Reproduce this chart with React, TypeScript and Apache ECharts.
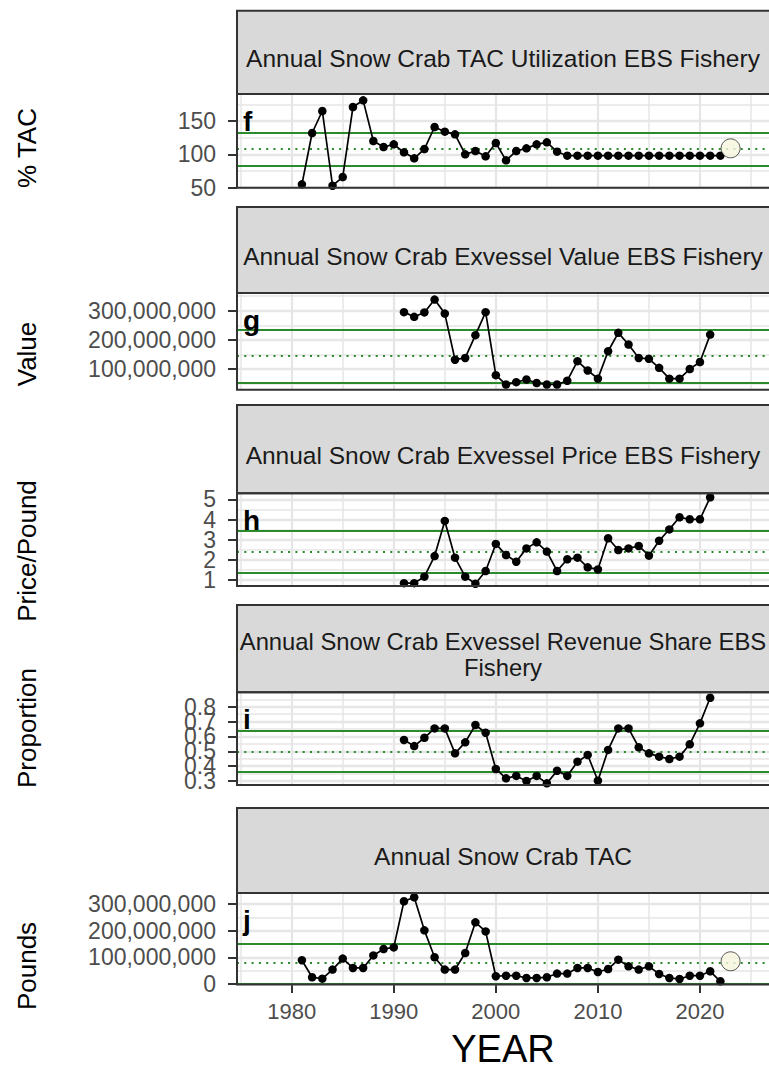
import { useEffect, useRef } from "react";
import * as echarts from "echarts";

const FONT = "'Liberation Sans', Arial, Helvetica, sans-serif";

// ---------- data ----------
const tacYears = [1981, 1982, 1983, 1984, 1985, 1986, 1987, 1988, 1989, 1990, 1991, 1992, 1993, 1994, 1995, 1996, 1997, 1998, 1999, 2000, 2001, 2002, 2003, 2004, 2005, 2006, 2007, 2008, 2009, 2010, 2011, 2012, 2013, 2014, 2015, 2016, 2017, 2018, 2019, 2020, 2021, 2022];
const econYears = [1991, 1992, 1993, 1994, 1995, 1996, 1997, 1998, 1999, 2000, 2001, 2002, 2003, 2004, 2005, 2006, 2007, 2008, 2009, 2010, 2011, 2012, 2013, 2014, 2015, 2016, 2017, 2018, 2019, 2020, 2021];

const tacUtilization = [55, 132, 165, 53, 66, 171, 181, 120, 111, 115, 103, 94, 108, 141, 134, 130, 100, 105, 97, 117, 91, 105, 109, 115, 118, 104, 98, 98, 98, 98, 98, 98, 98, 98, 98, 98, 98, 98, 98, 98, 98, 98];
const exvesselValue = [295e6, 279e6, 294e6, 338e6, 290e6, 132e6, 138e6, 216e6, 295e6, 79e6, 47e6, 55e6, 64e6, 52e6, 47e6, 47e6, 60e6, 127e6, 95e6, 67e6, 161e6, 224e6, 184e6, 138e6, 135e6, 104e6, 67e6, 67e6, 100e6, 124e6, 218e6];
const exvesselPrice = [0.85, 0.85, 1.17, 2.19, 3.93, 2.11, 1.17, 0.82, 1.45, 2.79, 2.24, 1.91, 2.57, 2.87, 2.41, 1.45, 2.03, 2.11, 1.63, 1.53, 3.07, 2.49, 2.57, 2.69, 2.21, 2.95, 3.51, 4.11, 4.01, 4.01, 5.1];
const revenueShare = [0.576, 0.535, 0.591, 0.654, 0.654, 0.486, 0.56, 0.677, 0.625, 0.381, 0.318, 0.334, 0.3, 0.334, 0.284, 0.369, 0.334, 0.43, 0.475, 0.302, 0.509, 0.654, 0.654, 0.527, 0.486, 0.464, 0.448, 0.464, 0.547, 0.688, 0.86];
const tacPounds = [89e6, 25e6, 20e6, 54e6, 95e6, 60e6, 60e6, 107e6, 131e6, 137e6, 310e6, 325e6, 201e6, 100e6, 54e6, 54e6, 116e6, 231e6, 197e6, 29e6, 31e6, 31e6, 22.5e6, 22.5e6, 25e6, 39e6, 39e6, 60e6, 60e6, 45e6, 56e6, 91e6, 66e6, 54e6, 66e6, 37.5e6, 22.5e6, 18.7e6, 31e6, 31e6, 47.5e6, 10e6];

// current-year markers (open circles)
const utilizationCurrent = [2023, 109];
const poundsCurrent = [2023, 85e6];

// reference lines: [lower, mean, upper]
const utilizationRef = [83, 108, 132];
const valueRef = [53e6, 144e6, 236e6];
const priceRef = [1.37, 2.39, 3.42];
const shareRef = [0.358, 0.497, 0.638];
const poundsRef = [1e6, 81e6, 151e6];

// ticks / grid values
const xMajor = [1980, 1990, 2000, 2010, 2020];
const xMinor = [1975, 1985, 1995, 2005, 2015, 2025];
const utilMajor = [50, 100, 150];
const utilMinor = [75, 125, 175];
const valueMajor = [100e6, 200e6, 300e6];
const valueMinor = [50e6, 150e6, 250e6, 350e6];
const priceMajor = [1, 2, 3, 4, 5];
const priceMinor = [1.5, 2.5, 3.5, 4.5];
const shareMajor = [0.3, 0.4, 0.5, 0.6, 0.7, 0.8];
const shareMinor = [0.35, 0.45, 0.55, 0.65, 0.75, 0.85];
const poundsMajor = [0, 100e6, 200e6, 300e6];
const poundsMinor = [50e6, 150e6, 250e6];

const titles = [
  "Annual Snow Crab TAC Utilization EBS Fishery",
  "Annual Snow Crab Exvessel Value EBS Fishery",
  "Annual Snow Crab Exvessel Price EBS Fishery",
  "Annual Snow Crab Exvessel Revenue Share EBS\nFishery",
  "Annual Snow Crab TAC",
];
const yTitles = ["% TAC", "Value", "Price/Pound", "Proportion", "Pounds"];
const letters = ["f", "g", "h", "i", "j"];

const commas = (v: number) => Math.round(v).toLocaleString("en-US");

const panels = [
  { years: tacYears, values: tacUtilization, ref: utilizationRef, major: utilMajor, minor: utilMinor, extra: utilizationCurrent, fmt: (v: number) => String(v) },
  { years: econYears, values: exvesselValue, ref: valueRef, major: valueMajor, minor: valueMinor, extra: null, fmt: commas },
  { years: econYears, values: exvesselPrice, ref: priceRef, major: priceMajor, minor: priceMinor, extra: null, fmt: (v: number) => String(Math.round(v)) },
  { years: econYears, values: revenueShare, ref: shareRef, major: shareMajor, minor: shareMinor, extra: null, fmt: (v: number) => v.toFixed(1) },
  { years: tacYears, values: tacPounds, ref: poundsRef, major: poundsMajor, minor: poundsMinor, extra: poundsCurrent, fmt: commas },
];

// ---------- layout ----------
const X_MIN = 1974.64;
const X_MAX = 2026.96;
const PANEL_LEFT = 237;
const PANEL_WIDTH = 534;
const layout = [
  { stripTop: 10.7, top: 94, height: 93.7, yMin: 50, yMax: 190.5, yTitleY: 148, titleSize: 24.5 },
  { stripTop: 207, top: 293, height: 96.7, yMin: 29.2e6, yMax: 360.6e6, yTitleY: 354, titleSize: 24.5 },
  { stripTop: 405, top: 493.3, height: 92.7, yMin: 0.708, yMax: 5.297, yTitleY: 551, titleSize: 24.5 },
  { stripTop: 605, top: 692.3, height: 92.7, yMin: 0.273, yMax: 0.897, yTitleY: 728, titleSize: 23.8 },
  { stripTop: 808, top: 893, height: 91.5, yMin: -2e6, yMax: 341e6, yTitleY: 966, titleSize: 24.5 },
];

const GREEN = "#2b8a2b";
const GRID = "#e6e6e6";
const DARK = "#333333";
const TICK_TEXT = "#4d4d4d";

export default function App() {
  const ref = useRef<HTMLDivElement>(null);

  useEffect(() => {
    if (!ref.current) return;
    const chart = echarts.init(ref.current, undefined, { renderer: "svg" });

    const grids: any[] = [];
    const xAxes: any[] = [];
    const yAxes: any[] = [];
    const series: any[] = [];
    const graphic: any[] = [];

    const yLabel = (fmt: (v: number) => string, values: number[]) => ({
      show: true,
      customValues: values,
      interval: 0,
      showMinLabel: true,
      showMaxLabel: true,
      hideOverlap: false,
      formatter: fmt,
      color: TICK_TEXT,
      fontSize: 23,
      lineHeight: 13,
      fontFamily: FONT,
      margin: 21,
    });

    panels.forEach((p, i) => {
      const L = layout[i];
      const isLast = i === panels.length - 1;
      grids.push({
        left: PANEL_LEFT,
        width: PANEL_WIDTH,
        top: L.top,
        height: L.height,
        show: true,
        backgroundColor: "#ffffff",
        borderWidth: 0,
        containLabel: false,
        outerBoundsMode: "none",
      });
      xAxes.push({
        gridIndex: i,
        type: "value",
        min: X_MIN,
        max: X_MAX,
        splitLine: { show: false },
        axisLine: { show: false },
        axisTick: isLast
          ? { show: true, customValues: xMajor, length: 9, lineStyle: { color: DARK, width: 2 } }
          : { show: false },
        axisLabel: isLast
          ? {
              show: true,
              customValues: xMajor,
              showMinLabel: true,
              showMaxLabel: true,
              formatter: (v: number) => String(v),
              color: TICK_TEXT,
              fontSize: 22,
              fontFamily: FONT,
              margin: 16,
            }
          : { show: false },
      });
      // two overlaid y axes so that tightly packed tick labels are all drawn
      const evenLabels = p.major.filter((_, k) => k % 2 === 0);
      const oddLabels = p.major.filter((_, k) => k % 2 === 1);
      const yIndex = yAxes.length;
      yAxes.push({
        gridIndex: i,
        type: "value",
        position: "left",
        offset: 0,
        min: L.yMin,
        max: L.yMax,
        splitLine: { show: false },
        axisLine: { show: false },
        axisTick: { show: true, customValues: p.major, length: 9, lineStyle: { color: DARK, width: 2 } },
        axisLabel: yLabel(p.fmt, evenLabels),
      });
      yAxes.push({
        gridIndex: i,
        type: "value",
        position: "left",
        offset: 0,
        min: L.yMin,
        max: L.yMax,
        splitLine: { show: false },
        axisLine: { show: false },
        axisTick: { show: false },
        axisLabel: oddLabels.length ? yLabel(p.fmt, oddLabels) : { show: false },
      });

      const markData: any[] = [];
      p.minor.forEach((v) => markData.push({ yAxis: v, lineStyle: { color: GRID, width: 1.5, type: "solid" } }));
      xMinor.forEach((v) => markData.push({ xAxis: v, lineStyle: { color: GRID, width: 1.5, type: "solid" } }));
      p.major.forEach((v) => markData.push({ yAxis: v, lineStyle: { color: GRID, width: 2.3, type: "solid" } }));
      xMajor.forEach((v) => markData.push({ xAxis: v, lineStyle: { color: GRID, width: 2.3, type: "solid" } }));
      markData.push({ yAxis: p.ref[0], lineStyle: { color: GREEN, width: 2, type: "solid" } });
      markData.push({ yAxis: p.ref[2], lineStyle: { color: GREEN, width: 2, type: "solid" } });
      markData.push({ yAxis: p.ref[1], lineStyle: { color: GREEN, width: 2, type: [2, 5.3] } });

      series.push({
        type: "line",
        xAxisIndex: i,
        yAxisIndex: yIndex,
        data: p.years.map((y, k) => [y, p.values[k]]),
        symbol: "circle",
        symbolSize: 8.5,
        showSymbol: true,
        itemStyle: { color: "#000000" },
        lineStyle: { color: "#000000", width: 1.7 },
        z: 3,
        silent: true,
        markLine: {
          silent: true,
          z: 1,
          symbol: ["none", "none"],
          label: { show: false },
          emphasis: { disabled: true },
          animation: false,
          data: markData,
        },
      });
      if (p.extra) {
        series.push({
          type: "scatter",
          xAxisIndex: i,
          yAxisIndex: yIndex,
          data: [p.extra],
          symbol: "circle",
          symbolSize: 19,
          itemStyle: { color: "#f5f5dc", borderColor: DARK, borderWidth: 1 },
          z: 4,
          silent: true,
        });
      }

      // strip
      graphic.push({
        type: "rect",
        z: 50,
        shape: { x: PANEL_LEFT, y: L.stripTop, width: PANEL_WIDTH, height: L.top - L.stripTop },
        style: { fill: "#d9d9d9", stroke: DARK, lineWidth: 2 },
      });
      graphic.push({
        type: "text",
        z: 51,
        x: 503,
        y: (L.stripTop + L.top) / 2 + 6,
        style: {
          text: titles[i],
          fontSize: L.titleSize,
          fontFamily: FONT,
          fill: "#1a1a1a",
          align: "center",
          verticalAlign: "middle",
          lineHeight: 26,
        },
      });
      // panel border
      graphic.push({
        type: "rect",
        z: 60,
        shape: { x: PANEL_LEFT, y: L.top, width: PANEL_WIDTH, height: L.height },
        style: { fill: "none", stroke: DARK, lineWidth: 2 },
      });
      // panel letter
      graphic.push({
        type: "text",
        z: 61,
        x: 243,
        y: L.top + 27.5,
        style: {
          text: letters[i],
          fontSize: 28,
          fontWeight: "bold",
          fontFamily: FONT,
          fill: "#000000",
          align: "left",
          verticalAlign: "middle",
        },
      });
      // y title
      graphic.push({
        type: "text",
        z: 61,
        x: 27,
        y: L.yTitleY,
        rotation: Math.PI / 2,
        style: {
          text: yTitles[i],
          fontSize: 26,
          fontFamily: FONT,
          fill: "#000000",
          align: "center",
          verticalAlign: "middle",
        },
      });
    });

    graphic.push({
      type: "text",
      z: 61,
      x: 503,
      y: 1049,
      style: {
        text: "YEAR",
        fontSize: 38,
        fontFamily: FONT,
        fill: "#000000",
        align: "center",
        verticalAlign: "middle",
      },
    });

    chart.setOption({
      animation: false,
      backgroundColor: "#ffffff",
      grid: grids,
      xAxis: xAxes,
      yAxis: yAxes,
      series,
      graphic,
    });

    return () => chart.dispose();
  }, []);

  return (
    <div
      ref={ref}
      style={{ position: "absolute", left: 0, top: 0, width: 769, height: 1074, overflow: "hidden" }}
    />
  );
}
